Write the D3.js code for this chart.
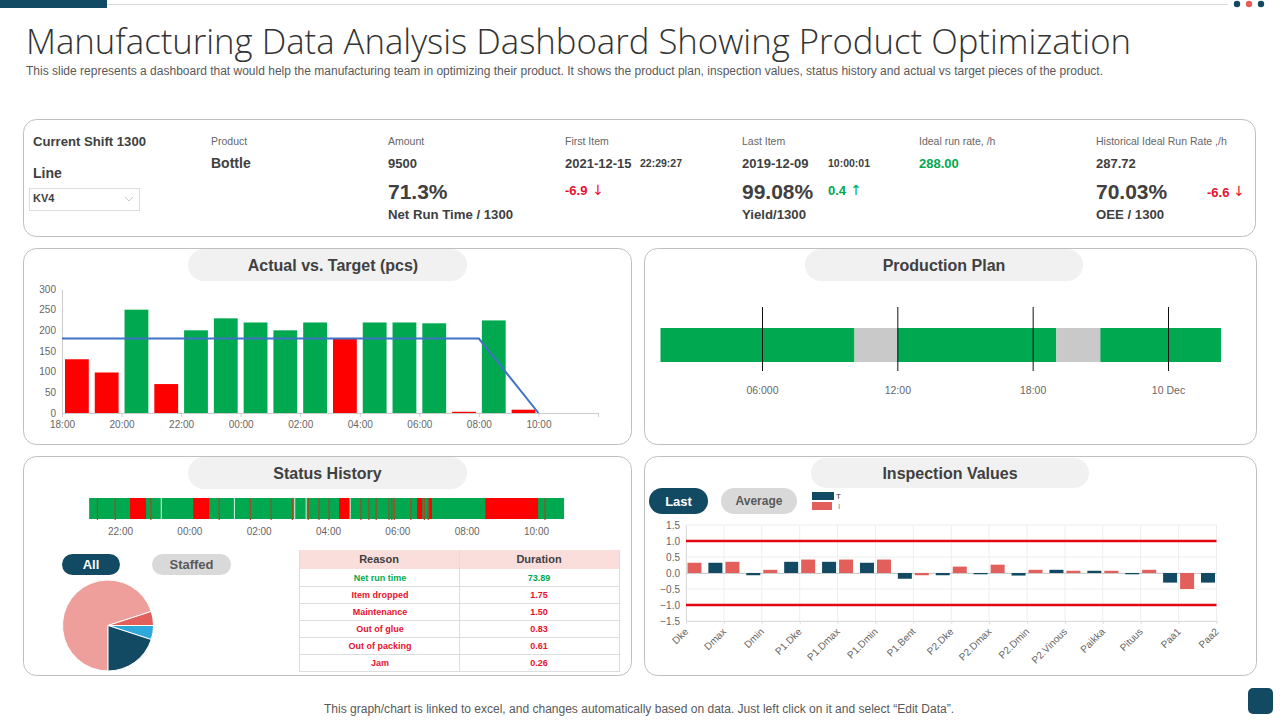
<!DOCTYPE html>
<html>
<head>
<meta charset="utf-8">
<script src="https://cdn.jsdelivr.net/npm/d3@7"></script>
<style>
html,body{margin:0;padding:0;background:#fff;overflow:hidden}
svg{display:block}
text{font-family:"Liberation Sans",Arial,sans-serif}
</style>
</head>
<body>
<svg id="c" width="1280" height="720"></svg>
<script>
// ---------- DATA ----------
const titleText = "Manufacturing Data Analysis Dashboard Showing Product Optimization";
const subtitleText = "This slide represents a dashboard that would help the manufacturing team in optimizing their product. It shows the product plan, inspection values, status history and actual vs target pieces of the product.";
const footerText = "This graph/chart is linked to excel,  and changes automatically based on data. Just left click on it and select “Edit Data”.";

// Actual vs target: one value per hour slot, starting at 18:00
const actualValues = [130, 98, 250, 70, 200, 229, 219, 200, 219, 180, 219, 219, 217, 3, 224, 8];
const actualThreshold = 180;
const targetSlots = [0, 14, 16];
const targetValues = [180, 180, 0];
const actualTickSlots = [0, 2, 4, 6, 8, 10, 12, 14, 16, 18];
const actualTickLabels = ["18:00","20:00","22:00","00:00","02:00","04:00","06:00","08:00","10:00",""];
const actualYTicks = [0, 50, 100, 150, 200, 250, 300];

// Production plan (hours)
const planStarts = [1.5, 10.1, 12, 19.05, 21];
const planEnds   = [10.1, 12, 19.05, 21, 26.35];
const planStates = ["run", "idle", "run", "idle", "run"];
const planTickHours = [6, 12, 18, 24];
const planTickLabels = ["06:000", "12:00", "18:00", "10 Dec"];

// Status history (continuous hours, 24 = 00:00)
const statusStart = 21.11, statusEnd = 34.81;
const statusRedStarts = [22.29, 24.11, 28.32, 30.57, 30.92, 32.54];
const statusRedEnds   = [22.75, 24.57, 28.63, 30.72, 31.0, 34.06];
const statusStops = [21.35,21.86,22.89,24.86,25.76,26.36,26.97,27.43,27.74,28.03,28.95,29.18,29.39,29.76,29.84,29.91,30.39,30.78,30.89,34.26];
const statusGaps = [23.19, 25.30, 27.04, 27.37, 28.64];
const statusTicks = [22, 24, 26, 28, 30, 32, 34];
const statusTickLabels = ["22:00","00:00","02:00","04:00","06:00","08:00","10:00"];

// Pie
const pieValues = [70, 5, 5, 20];
const pieColors = ["#ee9e9b", "#e25f5c", "#2fa9dc", "#134a63"];

// Table
const reasons = ["Net run time","Item dropped","Maintenance","Out of glue","Out of packing","Jam"];
const durations = ["73.89","1.75","1.50","0.83","0.61","0.26"];

// Inspection values
const inspectionNames = ["Dke","Dmax","Dmin","P1.Dke","P1.Dmax","P1.Dmin","P1.Bent","P2.Dke","P2.Dmax","P2.Dmin","P2.Vinous","Paikka","Pituus","Paa1","Paa2"];
const inspectionT = [null,0.32,-0.07,0.35,0.35,0.32,-0.18,-0.07,-0.04,-0.08,0.10,0.07,-0.04,-0.30,-0.30];
const inspectionI = [0.32,0.35,0.10,0.42,0.42,0.42,-0.07,0.20,0.26,0.10,0.07,0.07,0.10,-0.50,null];
const inspectionYTicks = [-1.5,-1.0,-0.5,0,0.5,1.0,1.5];
const inspectionLimits = [1, -1];

// Header KPIs
const kpiLabels = ["Product","Amount","First Item","Last Item","Ideal run rate, /h","Historical Ideal Run Rate ,/h"];
const kpiValues = ["Bottle","9500","2021-12-15","2019-12-09","288.00","287.72"];

// ---------- COLOURS ----------
const GREEN="#00a94f", RED="#ff0000", NAVY="#134a63", CORAL="#e25f5c", DARK="#404040", AXIS="#666";
const svg = d3.select("#c");

function txt(x,y,s,o={}){
  const t = svg.append("text").attr("x",x).attr("y",y).text(s)
    .attr("font-size",o.size||11).attr("fill",o.fill||DARK)
    .attr("font-weight",o.weight||"normal").attr("text-anchor",o.anchor||"start")
    .attr("dominant-baseline","central");
  if(o.family) t.style("font-family",o.family);
  if(o.len) t.attr("textLength",o.len).attr("lengthAdjust","spacingAndGlyphs");
  return t;
}
function panel(x,y,w,h){
  svg.append("rect").attr("x",x+.5).attr("y",y+.5).attr("width",w).attr("height",h)
    .attr("rx",13).attr("fill","#fff").attr("stroke","#bfbfbf").attr("stroke-width",1);
}
function pill(x,y,w,h,fill,label,color,size,labelX){
  svg.append("rect").attr("x",x).attr("y",y).attr("width",w).attr("height",h)
    .attr("rx",h/2).attr("fill",fill);
  txt(labelX||x+w/2,y+h/2,label,{size:size,fill:color,weight:"bold",anchor:"middle"});
}
function styleAxis(g,lineColor){
  g.selectAll("path").attr("stroke",lineColor);
  g.selectAll("line").attr("stroke",lineColor);
  g.selectAll("text").attr("fill",AXIS).attr("font-size",10).style("font-family",'"Liberation Sans",Arial,sans-serif');
}

// ---------- CHROME ----------
svg.append("line").attr("x1",107).attr("x2",1228).attr("y1",4.5).attr("y2",4.5).attr("stroke","#d9d9d9");
svg.append("rect").attr("x",0).attr("y",0).attr("width",107).attr("height",8).attr("fill",NAVY);
[[1237,NAVY],[1249,CORAL],[1261,NAVY]].forEach(d=>svg.append("circle").attr("cx",d[0]).attr("cy",4).attr("r",3.2).attr("fill",d[1]));
txt(26,40,titleText,{size:35,fill:"#333",weight:300,family:'"Open Sans",sans-serif',len:1105});
txt(26,71,subtitleText,{size:12,fill:"#595959",len:1077});
txt(639,709,footerText,{size:12,fill:"#595959",anchor:"middle",len:630});
svg.append("rect").attr("x",1248).attr("y",688).attr("width",25).attr("height",26).attr("rx",5).attr("fill",NAVY);

panel(23,119,1232,117);
panel(23,248,608,196);
panel(644,248,612,196);
panel(23,456,608,219);
panel(644,456,612,219);

pill(188,249,279,32,"#f1f1f1","Actual vs. Target (pcs)",DARK,16,333);
pill(805,249,278,32,"#f1f1f1","Production Plan",DARK,16);
pill(188,457,279,32,"#f1f1f1","Status History",DARK,16);
pill(811,458,278,30,"#f1f1f1","Inspection Values",DARK,16);

// ---------- KPI STRIP ----------
txt(33,141,"Current  Shift 1300",{size:13.5,weight:"bold",len:113});
txt(33,173,"Line",{size:14,weight:"bold"});
svg.append("rect").attr("x",29.5).attr("y",188.5).attr("width",110).attr("height",22).attr("fill","#fff").attr("stroke","#ddd");
txt(33,198,"KV4",{size:11,weight:"bold"});
svg.append("path").attr("d",d3.line()([[125,197],[129,201],[133,197]])).attr("fill","none").attr("stroke","#ccc");
const kpiX = d3.scalePoint().domain(kpiLabels).range([211,1096]);
kpiLabels.forEach((l,i)=>{
  txt(kpiX(l),141,l,{size:10.5,fill:"#666"});
  txt(kpiX(l),163,kpiValues[i],{size:i==0?14:13,weight:"bold",fill:i==4?GREEN:DARK});
});
txt(640,163,"22:29:27",{size:10.5,weight:"bold"});
txt(828,163,"10:00:01",{size:10.5,weight:"bold"});
txt(388,191,"71.3%",{size:21,weight:"bold"});
txt(388,214,"Net Run Time / 1300",{size:13.2,weight:"bold"});
txt(742,191,"99.08%",{size:21,weight:"bold"});
txt(742,214,"Yield/1300",{size:13.2,weight:"bold"});
txt(1096,191,"70.03%",{size:21,weight:"bold"});
txt(1096,214,"OEE  / 1300",{size:13.2,weight:"bold"});
const ARROW='"DejaVu Sans",sans-serif';
txt(565,190,"-6.9",{size:13,fill:"#e8112d",weight:"bold"});
txt(598,190,"↓",{size:14,fill:"#e8112d",anchor:"middle",family:ARROW});
txt(828,190,"0.4",{size:13,fill:GREEN,weight:"bold"});
txt(856,190,"↑",{size:14,fill:GREEN,anchor:"middle",family:ARROW});
txt(1207,192,"-6.6",{size:13,fill:"#e8112d",weight:"bold"});
txt(1239,191,"↓",{size:14,fill:"#e8112d",anchor:"middle",family:ARROW});

// ---------- ACTUAL VS TARGET ----------
const ax = d3.scaleLinear().domain([0,18]).range([62,598]);
const ay = d3.scaleLinear().domain([0,300]).range([413,289]);
const gax = svg.append("g").attr("transform","translate(0,413)")
  .call(d3.axisBottom(ax).tickValues(actualTickSlots).tickFormat((d,i)=>actualTickLabels[i]).tickSize(4).tickPadding(4).tickSizeOuter(0));
styleAxis(gax,"#ccc");
const gay = svg.append("g").attr("transform","translate(62,0)")
  .call(d3.axisLeft(ay).tickValues(actualYTicks).tickSize(0));
styleAxis(gay,"#ccc");
gay.selectAll("text").attr("x",-6);
svg.append("g").selectAll("rect").data(actualValues).join("rect")
  .attr("x",(d,i)=>ax(i+0.1)).attr("width",ax(0.8)-ax(0))
  .attr("y",d=>ay(d)).attr("height",d=>ay(0)-ay(d))
  .attr("fill",d=>d>actualThreshold?GREEN:RED);
svg.append("path").attr("fill","none").attr("stroke","#3f72c4").attr("stroke-width",2)
  .attr("d",d3.line().x((d,i)=>ax(targetSlots[i])).y(d=>ay(d))(targetValues));

// ---------- PRODUCTION PLAN ----------
const px = d3.scaleLinear().domain([6,24]).range([762,1168]);
svg.append("g").selectAll("rect").data(planStarts).join("rect")
  .attr("x",d=>px(d)).attr("width",(d,i)=>px(planEnds[i])-px(d))
  .attr("y",328).attr("height",34)
  .attr("fill",(d,i)=>planStates[i]=="run"?GREEN:"#c9c9c9");
const gpx = svg.append("g").attr("transform","translate(0,371)")
  .call(d3.axisBottom(px).tickValues(planTickHours).tickFormat((d,i)=>planTickLabels[i]).tickSizeInner(-64).tickSizeOuter(0));
gpx.select("path").remove();
gpx.selectAll("line").attr("stroke","#111");
gpx.selectAll("text").attr("fill",AXIS).attr("font-size",10.5).attr("y",15.5).style("font-family",'"Liberation Sans",Arial,sans-serif');

// ---------- STATUS HISTORY ----------
const sx = d3.scaleLinear().domain([22,34]).range([120,536]);
svg.append("rect").attr("x",sx(statusStart)).attr("width",sx(statusEnd)-sx(statusStart)).attr("y",498).attr("height",21).attr("fill",GREEN);
svg.append("g").selectAll("rect").data(statusRedStarts).join("rect")
  .attr("x",d=>sx(d)).attr("width",(d,i)=>sx(statusRedEnds[i])-sx(d))
  .attr("y",498).attr("height",21).attr("fill",RED);
svg.append("g").selectAll("line").data(statusGaps).join("line")
  .attr("x1",d=>sx(d)).attr("x2",d=>sx(d)).attr("y1",498).attr("y2",519).attr("stroke","#d8f0e0").attr("stroke-width",1);
svg.append("g").selectAll("line").data(statusStops).join("line")
  .attr("x1",d=>sx(d)).attr("x2",d=>sx(d)).attr("y1",498).attr("y2",520).attr("stroke","#a04a28").attr("stroke-width",1.2);
const gsx = svg.append("g").attr("transform","translate(0,519)")
  .call(d3.axisBottom(sx).tickValues(statusTicks).tickFormat((d,i)=>statusTickLabels[i]).tickSize(0).tickPadding(9));
gsx.select("path").remove();
gsx.selectAll("text").attr("fill",AXIS).attr("font-size",10).style("font-family",'"Liberation Sans",Arial,sans-serif');

pill(62,554,58,21,NAVY,"All","#fff",13);
pill(152,554,79,21,"#d9d9d9","Staffed","#595959",13);

// Pie
const arcs = d3.pie().sort(null).startAngle(Math.PI).endAngle(3*Math.PI)(pieValues);
svg.append("g").attr("transform","translate(108,625.5)").selectAll("path").data(arcs).join("path")
  .attr("d",d3.arc().innerRadius(0).outerRadius(45.5))
  .attr("fill",(d,i)=>pieColors[i]).attr("stroke","#fff").attr("stroke-width",1);

// Table
const rowY = d3.scaleLinear().domain([0,1]).range([569,586]);
svg.append("rect").attr("x",300).attr("y",550).attr("width",319.5).attr("height",19).attr("fill","#f9dedc");
txt(379,559,"Reason",{size:11,weight:"bold",anchor:"middle"});
txt(539,559,"Duration",{size:11,weight:"bold",anchor:"middle"});
reasons.forEach((r,i)=>{
  const c = i==0?GREEN:"#e8112d";
  txt(380,rowY(i)+8.5,r,{size:9,weight:"bold",fill:c,anchor:"middle"});
  txt(539,rowY(i)+8.5,durations[i],{size:9,weight:"bold",fill:c,anchor:"middle"});
  svg.append("line").attr("x1",300).attr("x2",619.5).attr("y1",rowY(i+1)+.5).attr("y2",rowY(i+1)+.5).attr("stroke","#ddd");
});
[299.5,459.5,619.5].forEach(x=>svg.append("line").attr("x1",x).attr("x2",x).attr("y1",550).attr("y2",672).attr("stroke","#ddd"));

// ---------- INSPECTION ----------
pill(649,488,59,26,NAVY,"Last","#fff",13);
pill(721,488,76,26,"#d9d9d9","Average","#595959",12);
svg.append("rect").attr("x",812).attr("y",492).attr("width",22).attr("height",8).attr("fill",NAVY);
svg.append("rect").attr("x",812).attr("y",502).attr("width",20).attr("height",8).attr("fill",CORAL);
txt(836,496,"T",{size:8,fill:"#333"});
txt(838,506,"I",{size:8,fill:"#888"});

const ix = d3.scalePoint().domain(inspectionNames).range([686,1216.5]);
const iy = d3.scaleLinear().domain([-1.5,1.5]).range([621,525]);
svg.append("clipPath").attr("id","plot").append("rect").attr("x",686).attr("y",525).attr("width",530.5).attr("height",96);
const gxGrid = svg.append("g");
gxGrid.selectAll("line.v").data(inspectionNames).join("line").attr("class","v")
  .attr("x1",d=>ix(d)).attr("x2",d=>ix(d)).attr("y1",525).attr("y2",621).attr("stroke","#eee");
gxGrid.selectAll("line.h").data(inspectionYTicks).join("line").attr("class","h")
  .attr("x1",686).attr("x2",1216.5).attr("y1",d=>iy(d)).attr("y2",d=>iy(d)).attr("stroke","#eee");
const giy = svg.append("g").attr("transform","translate(686,0)")
  .call(d3.axisLeft(iy).tickValues(inspectionYTicks).tickFormat(d3.format(".1f")).tickSize(0).tickPadding(6));
styleAxis(giy,"#ddd");
const gix = svg.append("g").attr("transform","translate(0,621)")
  .call(d3.axisBottom(ix).tickSize(3).tickSizeOuter(0));
styleAxis(gix,"#ddd");
gix.selectAll("text").attr("transform","translate(-4,2) rotate(-45)").attr("text-anchor","end").attr("dx","-0.2em").attr("dy","0.5em");
svg.append("line").attr("x1",686).attr("x2",1216.5).attr("y1",iy(0)+.5).attr("y2",iy(0)+.5).attr("stroke","#ccc");
const bars = svg.append("g").attr("clip-path","url(#plot)");
bars.selectAll("rect.t").data(inspectionNames).join("rect").attr("class","t")
  .attr("x",d=>ix(d)-15.5).attr("width",14)
  .attr("y",(d,i)=>iy(Math.max(0,inspectionT[i]||0)))
  .attr("height",(d,i)=>Math.abs(iy(inspectionT[i]||0)-iy(0)))
  .attr("fill",NAVY);
bars.selectAll("rect.i").data(inspectionNames).join("rect").attr("class","i")
  .attr("x",d=>ix(d)+1.5).attr("width",14)
  .attr("y",(d,i)=>iy(Math.max(0,inspectionI[i]||0)))
  .attr("height",(d,i)=>Math.abs(iy(inspectionI[i]||0)-iy(0)))
  .attr("fill",CORAL);
svg.append("g").selectAll("line").data(inspectionLimits).join("line")
  .attr("x1",686).attr("x2",1216.5).attr("y1",d=>iy(d)).attr("y2",d=>iy(d))
  .attr("stroke","#e30613").attr("stroke-width",2.5);
</script>
</body>
</html>
